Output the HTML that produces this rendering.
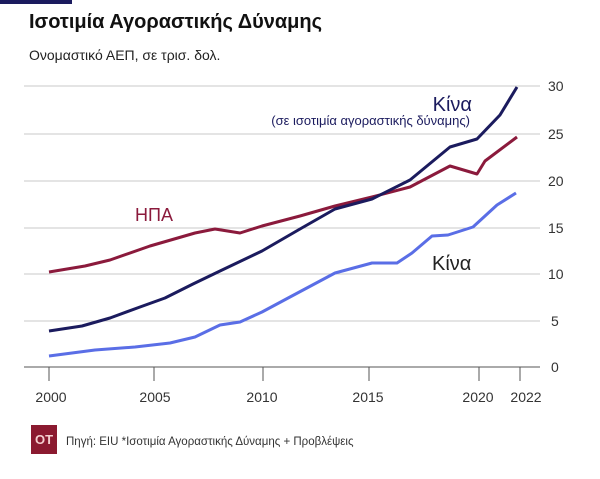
<!DOCTYPE html>
<html><head><meta charset="utf-8"><style>
body{margin:0;background:#fff;width:600px;height:474px;overflow:hidden;font-family:"Liberation Sans","DejaVu Sans",sans-serif;}
</style></head><body>
<svg width="600" height="474" xmlns="http://www.w3.org/2000/svg" font-family="Liberation Sans, DejaVu Sans, sans-serif">
<rect x="0" y="0" width="72" height="4" fill="#1b1b5e"/>
<text x="29" y="28" font-size="20" font-weight="bold" fill="#111">Ισοτιμία Αγοραστικής Δύναμης</text>
<text x="29" y="60" font-size="14" fill="#222">Ονομαστικό ΑΕΠ, σε τρισ. δολ.</text>
<g stroke="#c8c8c8" stroke-width="1">
<line x1="24" y1="86" x2="540" y2="86"/>
<line x1="24" y1="134" x2="540" y2="134"/>
<line x1="24" y1="181" x2="540" y2="181"/>
<line x1="24" y1="228" x2="540" y2="228"/>
<line x1="24" y1="274" x2="540" y2="274"/>
<line x1="24" y1="321" x2="540" y2="321"/>
</g>
<line x1="24" y1="367" x2="540" y2="367" stroke="#555" stroke-width="1"/>
<g stroke="#555" stroke-width="1">
<line x1="49" y1="367" x2="49" y2="381"/><line x1="154" y1="367" x2="154" y2="381"/>
<line x1="263" y1="367" x2="263" y2="381"/><line x1="369" y1="367" x2="369" y2="381"/>
<line x1="479" y1="367" x2="479" y2="381"/><line x1="520" y1="367" x2="520" y2="381"/>
</g>
<g font-size="14" fill="#333">
<text x="548" y="91">30</text><text x="548" y="139">25</text><text x="548" y="186">20</text>
<text x="548" y="233">15</text><text x="548" y="279">10</text><text x="551" y="326">5</text><text x="551" y="372">0</text>
</g>
<g font-size="14" fill="#333" text-anchor="middle">
<text x="51" y="402">2000</text><text x="155" y="402">2005</text><text x="262" y="402">2010</text>
<text x="368" y="402">2015</text><text x="478" y="402">2020</text><text x="526" y="402">2022</text>
</g>
<polyline fill="none" stroke="#5a6ee6" stroke-width="3" stroke-linejoin="round" points="49,356 95,350 135,347 170,343 195,337 220,325 240,322 262,312 290,297 335,273 372,263 397,263 412,253 432,236 448,235 473,227 497,205 516,193"/>
<polyline fill="none" stroke="#8b1a3c" stroke-width="3" stroke-linejoin="round" points="49,272 85,266 110,260 150,246 195,233 215,229 240,233 262,226 300,216 335,206 372,197 410,187 450,166 477,174 485,161 517,137"/>
<polyline fill="none" stroke="#1b1b5e" stroke-width="3" stroke-linejoin="round" points="49,331 82,326 110,318 140,307 165,298 193,284 220,271 262,251 300,229 335,209 372,199 410,180 450,147 477,139 500,115 517,87"/>
<text x="472" y="111" font-size="20" fill="#1b1b5e" text-anchor="end">Κίνα</text>
<text x="470" y="125" font-size="13" fill="#1b1b5e" text-anchor="end">(σε ισοτιμία αγοραστικής δύναμης)</text>
<text x="135" y="221" font-size="18" fill="#8b1a3c">ΗΠΑ</text>
<text x="432" y="270" font-size="20" fill="#222">Κίνα</text>
<rect x="31" y="425" width="26" height="29" fill="#8b1a30"/>
<text x="44" y="444" font-size="13" font-weight="bold" fill="#f4d0d0" text-anchor="middle">OT</text>
<text x="66" y="445" font-size="11.5" fill="#333">Πηγή: EIU  *Ισοτιμία Αγοραστικής Δύναμης  + Προβλέψεις</text>
</svg>
</body></html>
